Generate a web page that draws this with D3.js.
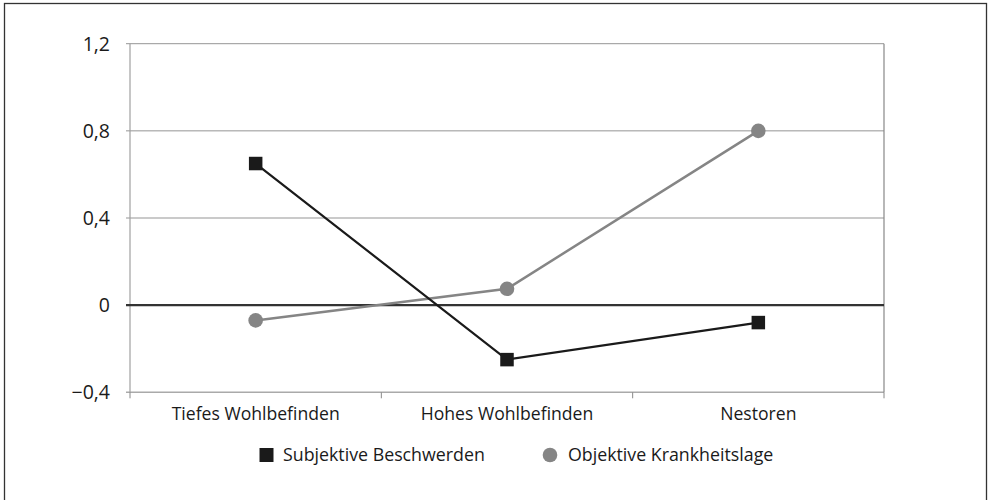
<!DOCTYPE html>
<html>
<head>
<meta charset="utf-8">
<script src="https://cdn.jsdelivr.net/npm/d3@7"></script>
<style>
  html, body { margin: 0; padding: 0; background: #fff; }
  svg { display: block; font-family: "Open Sans", "Noto Sans", sans-serif; }
</style>
</head>
<body>
<svg id="chart" width="989" height="500"></svg>
<script>
// Categories and series values
const categories = ["Tiefes Wohlbefinden", "Hohes Wohlbefinden", "Nestoren"];
const subjektiv = [0.65, -0.25, -0.08];
const objektiv = [-0.07, 0.075, 0.8];
const yTicks = [-0.4, 0, 0.4, 0.8, 1.2];
const seriesNames = ["Subjektive Beschwerden", "Objektive Krankheitslage"];

const svg = d3.select("#chart");
const plot = { left: 130, right: 884, top: 43.7, bottom: 392.3 };

// Outer frame
svg.append("rect")
  .attr("x", 4.5).attr("y", 3.5)
  .attr("width", 982).attr("height", 520)
  .attr("fill", "none").attr("stroke", "#333").attr("stroke-width", 1.3);

const x = d3.scaleBand().domain(categories).range([plot.left, plot.right]);
const y = d3.scaleLinear().domain([-0.4, 1.2]).range([plot.bottom, plot.top]);
const cx = c => x(c) + x.bandwidth() / 2;
const fmt = v => v === 0 ? "0" : d3.format(".1f")(v).replace(".", ",").replace("-", "\u2212");

// Horizontal gridlines
svg.append("g").selectAll("line")
  .data(yTicks.filter(v => v !== 0 && v !== -0.4))
  .join("line")
  .attr("x1", plot.left - 4).attr("x2", plot.right)
  .attr("y1", d => y(d)).attr("y2", d => y(d))
  .attr("stroke", "#959595").attr("stroke-width", 1);

// Bottom axis line with category separators
svg.append("line")
  .attr("x1", plot.left - 4).attr("x2", plot.right)
  .attr("y1", y(-0.4)).attr("y2", y(-0.4))
  .attr("stroke", "#aaa").attr("stroke-width", 1.5);
const bounds = categories.map(c => x(c)).concat([plot.right]);
svg.append("g").selectAll("line")
  .data(bounds)
  .join("line")
  .attr("x1", d => d).attr("x2", d => d)
  .attr("y1", y(-0.4)).attr("y2", y(-0.4) + 6)
  .attr("stroke", "#888").attr("stroke-width", 1);

// Left axis and right border of the plot
svg.append("line")
  .attr("x1", plot.left).attr("x2", plot.left)
  .attr("y1", plot.top).attr("y2", plot.bottom)
  .attr("stroke", "#a0a0a0").attr("stroke-width", 1.2);
svg.append("line")
  .attr("x1", plot.right).attr("x2", plot.right)
  .attr("y1", plot.top).attr("y2", plot.bottom)
  .attr("stroke", "#888").attr("stroke-width", 1.2);

// Zero line
svg.append("line")
  .attr("x1", plot.left - 4).attr("x2", plot.right)
  .attr("y1", y(0)).attr("y2", y(0))
  .attr("stroke", "#333").attr("stroke-width", 2.4);

// Y tick labels
svg.append("g").selectAll("text")
  .data(yTicks)
  .join("text")
  .attr("x", 110).attr("y", d => y(d))
  .attr("dy", "0.35em")
  .attr("text-anchor", "end")
  .attr("font-size", 19.5)
  .attr("fill", "#1a1a1a")
  .text(fmt);

// Category labels
svg.append("g").selectAll("text")
  .data(categories)
  .join("text")
  .attr("x", d => cx(d)).attr("y", 420)
  .attr("text-anchor", "middle")
  .attr("font-size", 17.6)
  .attr("fill", "#1a1a1a")
  .text(d => d);

// Series lines
const line = d3.line().x((d, i) => cx(categories[i])).y(d => y(d));
svg.append("path").datum(objektiv)
  .attr("d", line).attr("fill", "none")
  .attr("stroke", "#858585").attr("stroke-width", 2.5);
svg.append("path").datum(subjektiv)
  .attr("d", line).attr("fill", "none")
  .attr("stroke", "#1a1a1a").attr("stroke-width", 2.2);

// Markers
svg.append("g").selectAll("circle")
  .data(objektiv)
  .join("circle")
  .attr("cx", (d, i) => cx(categories[i])).attr("cy", d => y(d))
  .attr("r", 7.3).attr("fill", "#858585");
const sq = 13.5;
svg.append("g").selectAll("rect")
  .data(subjektiv)
  .join("rect")
  .attr("x", (d, i) => cx(categories[i]) - sq / 2).attr("y", d => y(d) - sq / 2)
  .attr("width", sq).attr("height", sq).attr("fill", "#1a1a1a");

// Legend
const legend = svg.append("g");
legend.append("rect")
  .attr("x", 259.5).attr("y", 448).attr("width", 14).attr("height", 14)
  .attr("fill", "#1a1a1a");
legend.append("text")
  .attr("x", 283).attr("y", 455).attr("dy", "0.35em")
  .attr("font-size", 17.8).attr("fill", "#1a1a1a")
  .text(seriesNames[0]);
legend.append("circle")
  .attr("cx", 550).attr("cy", 455).attr("r", 7.3)
  .attr("fill", "#858585");
legend.append("text")
  .attr("x", 568).attr("y", 455).attr("dy", "0.35em")
  .attr("font-size", 17.8).attr("fill", "#1a1a1a")
  .text(seriesNames[1]);
</script>
</body>
</html>
